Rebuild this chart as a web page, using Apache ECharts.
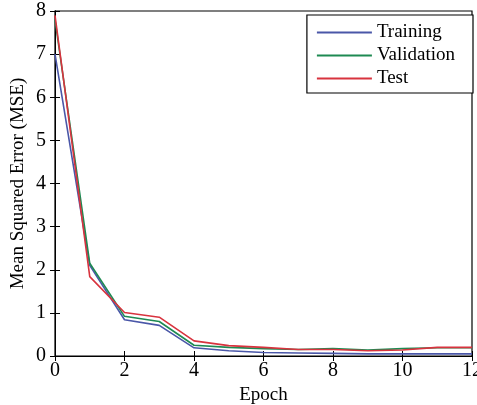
<!DOCTYPE html>
<html><head><meta charset="utf-8">
<script src="https://cdn.jsdelivr.net/npm/echarts@6/dist/echarts.min.js"></script>
<style>html,body{margin:0;padding:0;background:#fff}#c{width:477px;height:405px}</style>
</head><body><div id="c"></div>
<script>
const epochs = [0,1,2,3,4,5,6,7,8,9,10,11,12];
const training   = [7.0, 2.10, 0.84, 0.71, 0.19, 0.12, 0.08, 0.07, 0.06, 0.05, 0.05, 0.05, 0.05];
const validation = [7.8, 2.15, 0.92, 0.80, 0.25, 0.20, 0.17, 0.15, 0.17, 0.14, 0.17, 0.19, 0.19];
const test       = [7.9, 1.84, 1.01, 0.90, 0.35, 0.24, 0.20, 0.15, 0.15, 0.12, 0.14, 0.20, 0.20];
const names = ['Training','Validation','Test'];
const colors = ['#4a57a8','#1e8a52','#d8333e'];
const font = 'Liberation Serif';
const chart = echarts.init(document.getElementById('c'));
const mk = (arr) => epochs.map((e,i)=>[e,arr[i]]);
chart.setOption({
  animation:false,
  grid:{left:55,right:5,top:11,bottom:49,show:true,borderColor:'#000',borderWidth:1.2,outerBoundsMode:'none',containLabel:false},
  legend:{
    orient:'vertical', right:4, top:15, data:names,
    itemWidth:55, itemHeight:2, itemGap:4, icon:'rect',
    borderColor:'#000', borderWidth:1.2, backgroundColor:'#fff',
    padding:[8,18,5,10],
    textStyle:{fontFamily:font,fontSize:19,color:'#000'}
  },
  xAxis:[
    {type:'value',min:0,max:12,interval:2,name:'Epoch',nameLocation:'middle',nameGap:29,
     nameTextStyle:{fontFamily:font,fontSize:19,color:'#000'},
     axisLine:{lineStyle:{color:'#000'}},axisTick:{inside:true,length:5,lineStyle:{color:'#000'}},
     axisLabel:{fontFamily:font,fontSize:20,color:'#000',margin:5},splitLine:{show:false}},
    {type:'value',min:0,max:12,interval:2,position:'top',
     axisLine:{lineStyle:{color:'#000'}},axisTick:{inside:true,length:5,lineStyle:{color:'#000'}},
     axisLabel:{show:false},splitLine:{show:false}}
  ],
  yAxis:[
    {type:'value',min:0,max:8,interval:1,name:'Mean Squared Error (MSE)',nameLocation:'middle',nameGap:27,
     nameMoveOverlap:false,
     nameTextStyle:{fontFamily:font,fontSize:19,color:'#000'},
     axisLine:{show:true,lineStyle:{color:'#000'}},axisTick:{show:true,inside:true,length:5,lineStyle:{color:'#000'}},
     axisLabel:{fontFamily:font,fontSize:20,color:'#000',margin:9},splitLine:{show:false}},
    {type:'value',min:0,max:8,interval:1,position:'right',
     axisLine:{show:true,lineStyle:{color:'#000'}},axisTick:{show:true,inside:true,length:5,lineStyle:{color:'#000'}},
     axisLabel:{show:false},splitLine:{show:false}}
  ],
  series:[training,validation,test].map((arr,i)=>({
    name:names[i],type:'line',data:mk(arr),showSymbol:false,symbol:'none',
    lineStyle:{width:1.6,color:colors[i]},itemStyle:{color:colors[i]}
  }))
});
</script></body></html>
